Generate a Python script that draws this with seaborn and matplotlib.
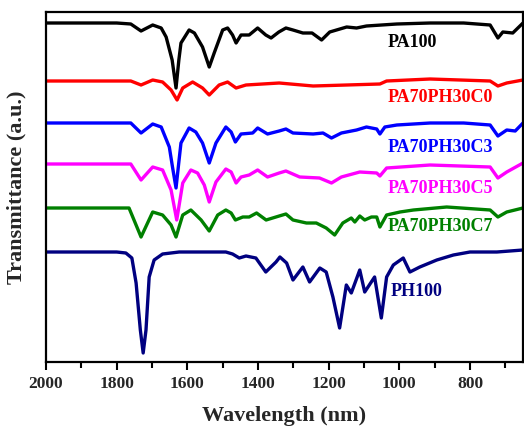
import matplotlib
matplotlib.use("Agg")
import matplotlib.pyplot as plt
import seaborn as sns
import pandas as pd
from matplotlib.ticker import MultipleLocator

# ---- data (wavenumber, transmittance a.u. with vertical offsets) ----
names = ["PA100", "PA70PH30C0", "PA70PH30C3", "PA70PH30C5", "PA70PH30C7", "PH100"]
colors = ["#000000", "#FF0000", "#0000FF", "#FF00FF", "#008000", "#000080"]

wn_pa100 = [2000, 1800, 1760, 1731, 1698, 1674, 1660, 1643, 1632, 1624, 1618, 1595, 1580, 1557, 1538, 1524,
            1500, 1486, 1472, 1462, 1448, 1425, 1401, 1378, 1363, 1341, 1321, 1301, 1273, 1247, 1220,
            1197, 1149, 1121, 1093, 1007, 913, 818, 743, 721, 707, 679, 650]
t_pa100 = [339, 339, 338, 331, 337, 334, 325, 302, 274, 302, 319, 332, 329, 315, 295, 309,
           332, 334, 327, 319, 327, 327, 334, 327, 324, 330, 334, 332, 329, 329, 322,
           330, 335, 334, 336, 338, 339, 339, 337, 324, 330, 329, 339]

wn_c0 = [2000, 1760, 1731, 1698, 1670, 1646, 1629, 1613, 1585, 1557, 1538, 1510, 1486, 1462, 1434,
         1340, 1244, 1149, 1055, 1036, 913, 743, 721, 696, 650]
t_c0 = [281, 281, 277, 282, 280, 272, 262, 274, 280, 274, 267, 277, 280, 274, 277,
        279, 276, 277, 278, 281, 283, 281, 276, 279, 282]

wn_c3 = [2000, 1760, 1731, 1698, 1674, 1651, 1642, 1632, 1624, 1618, 1595, 1576, 1557, 1538, 1519,
         1491, 1476, 1464, 1448, 1415, 1401, 1373, 1340, 1321, 1301, 1244, 1216, 1192, 1164,
         1121, 1093, 1064, 1055, 1041, 1007, 913, 818, 743, 721, 696, 672, 650]
t_c3 = [239, 239, 229, 238, 235, 215, 195, 174, 200, 219, 234, 230, 219, 199, 219,
        235, 230, 220, 228, 229, 234, 228, 231, 233, 229, 228, 229, 224, 229,
        232, 235, 233, 228, 235, 237, 239, 239, 237, 226, 232, 231, 239]

wn_c5 = [2000, 1760, 1731, 1698, 1670, 1646, 1630, 1613, 1590, 1571, 1552, 1538, 1519, 1491, 1476,
         1462, 1448, 1425, 1401, 1373, 1340, 1321, 1282, 1226, 1192, 1164, 1112, 1064, 1055,
         1036, 913, 743, 721, 696, 650]
t_c5 = [198, 198, 182, 195, 192, 172, 142, 179, 192, 189, 177, 160, 180, 193, 190,
        179, 185, 187, 192, 185, 189, 191, 185, 184, 179, 185, 190, 189, 186,
        194, 197, 195, 184, 190, 199]

wn_c7 = [2000, 1765, 1731, 1698, 1670, 1646, 1632, 1613, 1590, 1561, 1538, 1514, 1491, 1476, 1464,
         1443, 1425, 1404, 1377, 1340, 1321, 1301, 1263, 1235, 1207, 1183, 1160, 1136, 1126,
         1112, 1098, 1079, 1064, 1055, 1036, 998, 960, 866, 743, 721, 696, 650]
t_c7 = [154, 154, 125, 150, 147, 137, 125, 147, 152, 142, 131, 147, 152, 149, 142,
        145, 145, 149, 142, 146, 148, 142, 139, 139, 134, 127, 139, 144, 140,
        146, 142, 145, 145, 135, 147, 150, 152, 155, 152, 145, 150, 154]

wn_ph100 = [2000, 1800, 1774, 1757, 1745, 1733, 1725, 1717, 1708, 1694, 1670, 1623, 1491, 1472, 1453,
            1434, 1406, 1378, 1349, 1338, 1319, 1301, 1273, 1254, 1225, 1207, 1188, 1169, 1150,
            1136, 1112, 1098, 1070, 1051, 1036, 1017, 989, 970, 942, 894, 847, 800, 724, 650]
t_ph100 = [110, 110, 109, 104, 79, 32, 9, 32, 85, 102, 108, 110, 110, 108, 104,
           106, 104, 90, 100, 105, 99, 82, 95, 80, 94, 90, 65, 34, 77,
           69, 92, 70, 85, 44, 85, 97, 104, 90, 95, 102, 107, 110, 110, 112]

xticks = [2000, 1800, 1600, 1400, 1200, 1000, 800]

series = [(wn_pa100, t_pa100), (wn_c0, t_c0), (wn_c3, t_c3),
          (wn_c5, t_c5), (wn_c7, t_c7), (wn_ph100, t_ph100)]

frames = []
for name, (w, t) in zip(names, series):
    frames.append(pd.DataFrame({"wn": w, "t": t, "sample": name}))
df = pd.concat(frames, ignore_index=True)

# ---- plotting ----
sns.set_theme(style="ticks")
plt.rcParams["font.family"] = ["Liberation Serif", "DejaVu Serif"]
plt.rcParams["font.weight"] = "bold"

fig = plt.figure(figsize=(5.24, 4.32), dpi=100)
ax = fig.add_axes([46 / 524, (432 - 362) / 432, (523 - 46) / 524, (362 - 12) / 432])

sns.lineplot(data=df, x="wn", y="t", hue="sample", palette=dict(zip(names, colors)),
             estimator=None, sort=True, linewidth=2.4, legend=False, ax=ax,
             solid_joinstyle="round", solid_capstyle="round")

ax.set_xlim(2000, 650)
ax.set_ylim(0, 350)
ax.set_xticks(xticks)
ax.xaxis.set_minor_locator(MultipleLocator(100))
ax.set_yticks([])
ax.tick_params(axis="x", which="major", direction="out", length=6, width=1.5,
               labelsize=12.5, pad=4, color="black")
ax.tick_params(axis="x", which="minor", direction="out", length=4, width=1.5, color="black")
for lbl in ax.get_xticklabels():
    lbl.set_fontweight("bold")
for sp in ax.spines.values():
    sp.set_visible(True)
    sp.set_linewidth(1.6)
    sp.set_color("black")

ax.set_xlabel("Wavelength (nm)", fontsize=16, fontweight="bold", labelpad=10)
ax.set_ylabel("Transmittance (a.u.)", fontsize=16, fontweight="bold", labelpad=14)

label_x = [1032, 1032, 1032, 1032, 1032, 1026]
label_y = [319, 264, 214, 173, 135, 70]
for name, c, lx, ly in zip(names, colors, label_x, label_y):
    ax.text(lx, ly, name, color=c, fontsize=13, fontweight="bold",
            ha="left", va="center")

fig.savefig("out.png", dpi=100)
